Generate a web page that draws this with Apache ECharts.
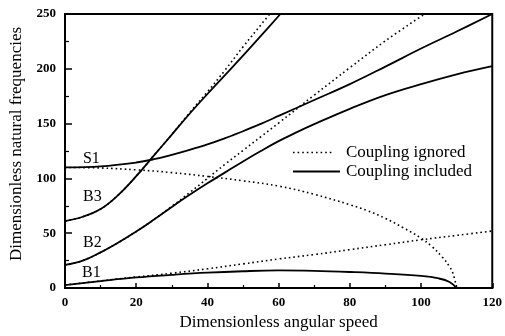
<!DOCTYPE html>
<html><head><meta charset="utf-8">
<script src="https://cdn.jsdelivr.net/npm/echarts@6/dist/echarts.min.js"></script>
<style>html,body{margin:0;padding:0;background:#fff}#c{width:505px;height:336px}</style>
</head><body><div id="c"></div>
<script>
// Axis ranges / ticks
const xMin = 0, xMax = 120, xStep = 20;
const yMin = 0, yMax = 250, yStep = 50;

// Coupling included (solid)
const b1IncX = [0,10,20,30,40,50,60,70,80,90,100,105,108,110];
const b1IncY = [2.7,6.3,9.6,12,14,15.3,16,15.6,14.6,13.2,11,8.7,5.5,0];
const b2IncX = [0,5,10,15,20,25,30,35,40,45,50,55,60,65,70,80,90,100,110,120];
const b2IncY = [21,25,32.5,41.5,51.5,62.5,74,85,95.5,105.5,115.5,125,134,142,149.5,163.5,176,186,195,202.5];
const b3IncX = [0,5,10,15,20,25,30,35,40,45,50,55,60.5];
const b3IncY = [61,65,72,85,102,121,140,159,177,194.5,212,230,250];
const s1IncX = [0,10,20,25,30,35,40,45,50,55,60,70,80,90,100,110,120];
const s1IncY = [110,111,114.5,117.5,121.5,126,131,136.8,143,149.8,157,171.5,186,202,218.5,234,250];

// Coupling ignored (dotted)
const b1IgnX = [0,10,20,30,40,50,60,70,80,90,100,110,120];
const b1IgnY = [2.7,6.5,10,13.5,17.5,22,26.5,30.5,35,39.5,44,48,52];
const b2IgnX = [0,5,10,15,20,25,30,35,40,45,50,55,60,70,80,90,101];
const b2IgnY = [21,25,32.5,41.5,51.5,62.5,74.5,87,100,113,125.5,138,150.5,176,201,225.5,250];
const b3IgnX = [0,5,10,15,20,25,30,35,40,45,50,55,57.5];
const b3IgnY = [61,65,72,85,102,121,140,160,179,199,220,240,250];
const s1IgnX = [0,10,20,30,40,50,60,70,80,85,90,95,100,103,106,108,109,110];
const s1IgnY = [110,109.5,107.8,105.3,101.8,97.8,93,85.5,76,70.5,63.5,55,45.5,38,28,19.5,13,0];

// Curve labels
const curveLabels = ['S1','B3','B2','B1'];
const curveLabelX = [7.4,7.7,7.7,7.4];
const curveLabelY = [117.7,83.3,41,14];

const legendNames = ['Coupling ignored','Coupling included'];

const FONT = '"Liberation Serif","Times New Roman",serif';
const zip = (xs, ys) => xs.map((x,i)=>[x, ys[i]]);

function lineSeries(name, xs, ys, dotted) {
  return {
    name, type:'line', data: zip(xs, ys), showSymbol:false, symbol:'none',
    smooth:0.4, silent:true, animation:false,
    lineStyle: dotted ? {color:'#000', width:1.6, type:[1.6,3]} : {color:'#000', width:1.8}
  };
}

const chart = echarts.init(document.getElementById('c'), null, {renderer:'canvas'});
chart.setOption({
  backgroundColor:'#fff',
  animation:false,
  grid:{left:62, right:8, top:14, bottom:43, show:true, borderColor:'#000', borderWidth:2},
  xAxis:{
    type:'value', min:xMin, max:xMax, interval:xStep,
    name:'Dimensionless angular speed', nameLocation:'middle', nameGap:26,
    nameTextStyle:{fontFamily:FONT, fontSize:17, color:'#000'},
    axisLine:{lineStyle:{color:'#000', width:2}},
    axisTick:{inside:true, length:5, lineStyle:{color:'#000', width:1.5}},
    minorTick:{show:true, splitNumber:2, length:3, lineStyle:{color:'#000', width:1.2}},
    splitLine:{show:false},
    axisLabel:{fontFamily:FONT, fontSize:13, fontWeight:'bold', color:'#000', margin:8}
  },
  yAxis:{
    type:'value', min:yMin, max:yMax, interval:yStep,
    name:'Dimensionless natural frequencies', nameLocation:'middle', nameGap:40,
    nameTextStyle:{fontFamily:FONT, fontSize:17, color:'#000', padding:[0,0,0,14]},
    axisLine:{lineStyle:{color:'#000', width:2}},
    axisTick:{inside:true, length:7, lineStyle:{color:'#000', width:1.5}},
    minorTick:{show:true, splitNumber:2, length:4, lineStyle:{color:'#000', width:1.2}},
    splitLine:{show:false},
    axisLabel:{fontFamily:FONT, fontSize:13, fontWeight:'bold', color:'#000', margin:9}
  },
  series:[
    lineSeries('B1 included', b1IncX, b1IncY, false),
    lineSeries('B2 included', b2IncX, b2IncY, false),
    lineSeries('B3 included', b3IncX, b3IncY, false),
    lineSeries('S1 included', s1IncX, s1IncY, false),
    lineSeries('B1 ignored', b1IgnX, b1IgnY, true),
    lineSeries('B2 ignored', b2IgnX, b2IgnY, true),
    lineSeries('B3 ignored', b3IgnX, b3IgnY, true),
    lineSeries('S1 ignored', s1IgnX, s1IgnY, true)
  ]
});

const g = [];
curveLabels.forEach((t,i)=>{
  const p = chart.convertToPixel({gridIndex:0}, [curveLabelX[i], curveLabelY[i]]);
  g.push({type:'text', x:p[0], y:p[1], silent:true,
    style:{text:t, fill:'#000', font:'16px '+FONT, align:'center', verticalAlign:'middle'}});
});
// legend
g.push({type:'line', silent:true, shape:{x1:293,y1:152.5,x2:333,y2:152.5}, style:{stroke:'#000', lineWidth:1.6, lineDash:[1.6,3]}});
g.push({type:'text', silent:true, x:346, y:152.5, style:{text:legendNames[0], fill:'#000', font:'17px '+FONT, verticalAlign:'middle'}});
g.push({type:'line', silent:true, shape:{x1:293,y1:171.5,x2:340,y2:171.5}, style:{stroke:'#000', lineWidth:1.8}});
g.push({type:'text', silent:true, x:346, y:171.5, style:{text:legendNames[1], fill:'#000', font:'17px '+FONT, verticalAlign:'middle'}});
chart.setOption({graphic:g});
</script>
</body></html>
